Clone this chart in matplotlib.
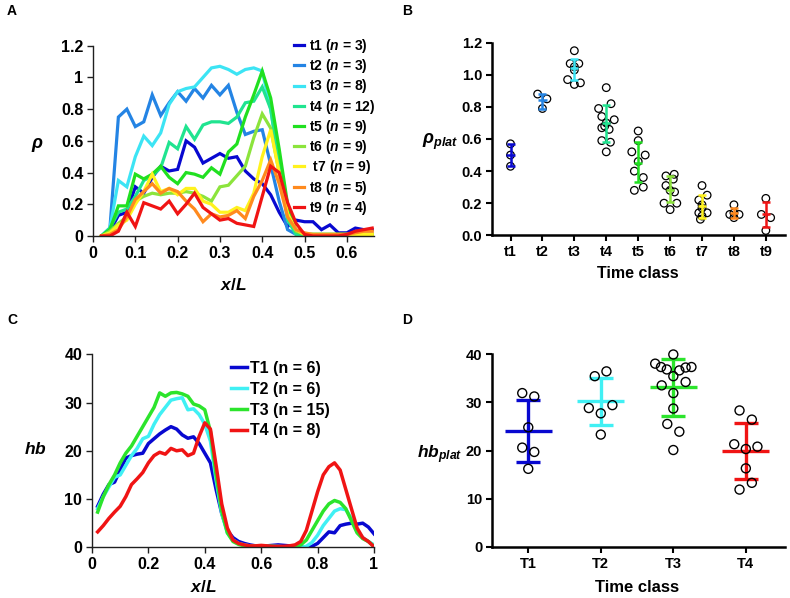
import matplotlib
matplotlib.use('Agg')
import matplotlib.pyplot as plt
from matplotlib.ticker import FuncFormatter, FormatStrFormatter

plt.rcParams['font.family'] = ['Liberation Sans', 'DejaVu Sans']
plt.rcParams['font.weight'] = 'bold'
plt.rcParams['mathtext.fontset'] = 'custom'
plt.rcParams['mathtext.rm'] = 'Liberation Sans:bold'
plt.rcParams['mathtext.it'] = 'Liberation Sans:italic:bold'
plt.rcParams['mathtext.bf'] = 'Liberation Sans:bold'

# ---------------- Panel A data ----------------
a_x = [0.02, 0.04, 0.06, 0.08, 0.10, 0.12, 0.14, 0.16, 0.18, 0.20, 0.22,
       0.24, 0.26, 0.28, 0.30, 0.32, 0.34, 0.36, 0.38, 0.40, 0.42, 0.44,
       0.46, 0.48, 0.50, 0.52, 0.54, 0.56, 0.58, 0.60, 0.62, 0.64, 0.66]
a_t1 = [0, 0.03, 0.13, 0.15, 0.31, 0.27, 0.37, 0.44, 0.41, 0.42, 0.60, 0.56,
        0.46, 0.49, 0.52, 0.49, 0.50, 0.41, 0.36, 0.33, 0.26, 0.15, 0.06, 0.10,
        0.09, 0.09, 0.04, 0.07, 0.02, 0.02, 0.05, 0.04, 0.04]
a_t2 = [0, 0.05, 0.75, 0.80, 0.69, 0.72, 0.89, 0.76, 0.84, 0.91, 0.85, 0.93,
        0.87, 0.95, 0.89, 0.95, 0.78, 0.64, 0.66, 0.67, 0.45, 0.22, 0.04, 0.01,
        0, 0, 0, 0, 0, 0, 0, 0, 0]
a_t3 = [0, 0.05, 0.35, 0.31, 0.50, 0.63, 0.57, 0.65, 0.83, 0.91, 0.93, 0.94,
        1.00, 1.06, 1.07, 1.05, 1.02, 1.05, 1.06, 1.04, 0.80, 0.45, 0.12, 0.01,
        0, 0, 0, 0, 0, 0, 0, 0, 0]
a_t4 = [0, 0.05, 0.15, 0.17, 0.25, 0.35, 0.38, 0.43, 0.59, 0.55, 0.69, 0.61,
        0.70, 0.72, 0.72, 0.71, 0.75, 0.84, 0.85, 0.94, 0.80, 0.45, 0.10, 0.01,
        0.01, 0.01, 0.01, 0.01, 0.01, 0.01, 0.01, 0.01, 0.01]
a_t5 = [0, 0.04, 0.19, 0.19, 0.39, 0.36, 0.39, 0.44, 0.37, 0.33, 0.40, 0.39,
        0.37, 0.43, 0.39, 0.53, 0.58, 0.75, 0.89, 1.04, 0.87, 0.55, 0.20, 0.03,
        0.01, 0.01, 0.01, 0.01, 0.01, 0.01, 0.01, 0.01, 0.01]
a_t6 = [0, 0.03, 0.08, 0.12, 0.22, 0.25, 0.27, 0.26, 0.27, 0.27, 0.28, 0.27,
        0.25, 0.22, 0.31, 0.32, 0.38, 0.44, 0.62, 0.77, 0.68, 0.40, 0.12, 0.03,
        0.01, 0.01, 0.01, 0.01, 0.01, 0.01, 0.01, 0.01, 0.01]
a_t7 = [0, 0.02, 0.07, 0.10, 0.20, 0.28, 0.39, 0.28, 0.30, 0.26, 0.30, 0.30,
        0.22, 0.20, 0.15, 0.15, 0.18, 0.16, 0.27, 0.50, 0.67, 0.40, 0.14, 0.04,
        0.01, 0.01, 0.01, 0.01, 0.01, 0.01, 0.01, 0.01, 0.01]
a_t8 = [0, 0.01, 0.04, 0.12, 0.23, 0.28, 0.33, 0.27, 0.30, 0.28, 0.22, 0.17,
        0.09, 0.14, 0.12, 0.13, 0.16, 0.11, 0.25, 0.35, 0.48, 0.33, 0.12, 0.04,
        0.02, 0.01, 0.01, 0.01, 0.01, 0.01, 0.02, 0.03, 0.03]
a_t9 = [0, 0, 0.03, 0.15, 0.06, 0.21, 0.19, 0.17, 0.22, 0.14, 0.20, 0.27,
        0.18, 0.14, 0.10, 0.11, 0.08, 0.07, 0.06, 0.25, 0.44, 0.40, 0.21, 0.08,
        0.01, 0, 0, 0, 0, 0.01, 0.03, 0.04, 0.05]
a_series = [a_t1, a_t2, a_t3, a_t4, a_t5, a_t6, a_t7, a_t8, a_t9]
a_labels = ['t1 ($n$ = 3)', 't2 ($n$ = 3)', 't3 ($n$ = 8)', 't4 ($n$ = 12)',
            't5 ($n$ = 9)', 't6 ($n$ = 9)', ' t7 ($n$ = 9)', 't8 ($n$ = 5)',
            't9 ($n$ = 4)']
a_colors = ['#0808D0', '#2484E4', '#3CE4F4', '#20E490', '#20E020',
            '#8CE43C', '#FFF21E', '#FF8A1E', '#F01414']

# ---------------- Panel B data ----------------
b_classes = ['t1', 't2', 't3', 't4', 't5', 't6', 't7', 't8', 't9']
b_points = [
    [0.57, 0.50, 0.43],
    [0.88, 0.85, 0.79],
    [1.15, 1.07, 1.07, 1.05, 1.03, 0.97, 0.95, 0.94],
    [0.92, 0.82, 0.79, 0.74, 0.72, 0.70, 0.68, 0.67, 0.66, 0.59, 0.58, 0.52],
    [0.65, 0.59, 0.52, 0.50, 0.46, 0.40, 0.36, 0.30, 0.28],
    [0.38, 0.37, 0.35, 0.31, 0.28, 0.27, 0.20, 0.20, 0.16],
    [0.31, 0.25, 0.22, 0.19, 0.17, 0.14, 0.14, 0.12, 0.10],
    [0.19, 0.14, 0.13, 0.13, 0.11],
    [0.23, 0.13, 0.11, 0.03],
]
b_jitter = [
    [0, 0, 0],
    [-0.15, 0.14, 0],
    [0, -0.13, 0.14, 0, 0, -0.21, 0.19, 0],
    [0, 0.15, -0.24, -0.14, 0.25, 0, -0.05, -0.14, 0.09, -0.14, 0.13, 0],
    [0, 0, -0.2, 0.22, 0, -0.12, 0.16, 0.16, -0.12],
    [0.13, -0.13, 0.10, -0.13, 0, 0.14, -0.19, 0.21, 0],
    [0, 0.16, -0.10, 0, 0, -0.10, 0.16, 0, -0.05],
    [0, 0, -0.13, 0.16, 0],
    [0, -0.14, 0.15, 0],
]
b_mean = [0.50, 0.84, 1.04, 0.70, 0.45, 0.28, 0.18, 0.14, 0.13]
b_low = [0.43, 0.79, 0.97, 0.58, 0.33, 0.21, 0.11, 0.11, 0.05]
b_high = [0.57, 0.88, 1.10, 0.81, 0.58, 0.37, 0.25, 0.17, 0.21]
b_colors = a_colors

# ---------------- Panel C data ----------------
c_x = [0.02, 0.04, 0.06, 0.08, 0.10, 0.12, 0.14, 0.16, 0.18, 0.20, 0.22, 0.24,
       0.26, 0.28, 0.30, 0.32, 0.34, 0.36, 0.38, 0.40, 0.42, 0.44, 0.46, 0.48,
       0.50, 0.52, 0.54, 0.56, 0.58, 0.60, 0.62, 0.64, 0.66, 0.68, 0.70, 0.72,
       0.74, 0.76, 0.78, 0.80, 0.82, 0.84, 0.86, 0.88, 0.90, 0.92, 0.94, 0.96,
       0.98, 1.00]
c_T1 = [8.5, 11.0, 13.0, 13.5, 16.0, 18.5, 19.0, 19.3, 19.5, 21.5, 22.5, 23.5,
        24.3, 25.0, 24.5, 23.3, 22.6, 22.9, 21.5, 19.5, 17.5, 12.0, 7.0, 3.5,
        2.0, 1.2, 0.8, 0.5, 0.3, 0.3, 0.3, 0.4, 0.5, 0.4, 0.3, 0.2,
        0.1, 0.1, 0.2, 0.8, 2.0, 3.2, 3.0, 4.5, 4.8, 5.0, 4.8, 5.0,
        4.2, 2.8]
c_T2 = [8.0, 10.5, 12.5, 14.5, 15.0, 17.0, 19.0, 20.5, 22.5, 23.0, 25.5, 27.5,
        29.0, 30.5, 30.8, 31.0, 28.5, 28.7, 27.5, 25.5, 22.0, 14.0, 7.0, 3.0,
        1.5, 0.8, 0.5, 0.3, 0.2, 0.2, 0.2, 0.2, 0.2, 0.1, 0.1, 0.1,
        0.0, 0.2, 1.0, 2.5, 4.5, 6.0, 7.5, 8.0, 7.8, 6.0, 3.5, 2.0,
        1.2, 0.5]
c_T3 = [7.3, 10.5, 13.0, 15.0, 17.5, 19.5, 21.0, 23.0, 25.0, 27.0, 29.0, 32.0,
        31.3, 32.0, 32.1, 31.8, 31.3, 29.7, 29.3, 28.5, 24.0, 15.0, 7.5, 3.0,
        1.2, 0.6, 0.3, 0.2, 0.2, 0.2, 0.2, 0.2, 0.1, 0.1, 0.1, 0.2,
        0.5, 1.5, 3.5, 5.5, 7.5, 9.0, 9.7, 9.3, 8.0, 5.5, 3.0, 1.8,
        1.2, 0.2]
c_T4 = [3.2, 4.5, 6.0, 7.3, 8.5, 10.5, 13.0, 14.2, 15.5, 17.5, 19.0, 19.7,
        19.3, 20.5, 20.0, 20.2, 19.0, 19.5, 23.0, 25.8, 24.5, 17.0, 9.0, 4.0,
        1.5, 0.8, 0.5, 0.3, 0.3, 0.4, 0.3, 0.2, 0.2, 0.2, 0.3, 0.5,
        1.2, 3.5, 7.5, 11.5, 15.0, 16.7, 17.5, 16.0, 12.0, 8.0, 4.0, 2.0,
        1.2, 0.1]
c_series = [c_T1, c_T2, c_T3, c_T4]
c_labels = ['T1 (n = 6)', 'T2 (n = 6)', 'T3 (n = 15)', 'T4 (n = 8)']
c_colors = ['#0808D0', '#40F0F4', '#2CE42C', '#F01414']

# ---------------- Panel D data ----------------
d_classes = ['T1', 'T2', 'T3', 'T4']
d_points = [
    [31.9, 31.2, 24.8, 20.6, 19.7, 16.2],
    [36.4, 35.4, 29.4, 28.8, 27.7, 23.3],
    [39.9, 38.0, 37.3, 36.8, 36.6, 37.2, 37.3, 35.4, 34.2, 33.5, 31.9, 28.7,
     25.5, 23.9, 20.1],
    [28.3, 26.4, 21.3, 20.8, 20.3, 16.3, 13.3, 11.9],
]
d_jitter = [
    [-0.083, 0.083, 0, -0.083, 0.083, 0],
    [0.078, -0.083, 0.16, -0.165, 0, 0],
    [0, -0.25, -0.17, -0.09, 0.083, 0.17, 0.25, 0, 0.17, -0.16, 0, 0,
     -0.083, 0.083, 0],
    [-0.087, 0.083, -0.16, 0.16, 0, 0, 0.083, -0.087],
]
d_mean = [24.0, 30.2, 33.1, 19.9]
d_low = [17.7, 25.3, 27.2, 14.0]
d_high = [30.5, 35.1, 39.0, 25.7]
d_colors = c_colors

# ---------------- Figure ----------------
W, H = 790, 598
fig = plt.figure(figsize=(W / 100, H / 100), dpi=100)


def box(l, t, r, b):
    return [l / W, 1 - b / H, (r - l) / W, (b - t) / H]


axA = fig.add_axes(box(93, 45.7, 373.5, 236))
axB = fig.add_axes(box(492, 42.7, 785, 235.3))
axC = fig.add_axes(box(92, 354.3, 374, 547.3))
axD = fig.add_axes(box(492, 354, 785, 547))

fmt_g = FuncFormatter(lambda v, p: f'{v:g}')

# Panel A
for ys, lab, col in zip(a_series, a_labels, a_colors):
    axA.plot(a_x, ys, color=col, lw=2.3, label=lab, solid_joinstyle='miter')
axA.set_xlim(0, 0.663)
axA.set_ylim(0, 1.2)
axA.set_xticks([0, 0.1, 0.2, 0.3, 0.4, 0.5, 0.6])
axA.set_yticks([0, 0.2, 0.4, 0.6, 0.8, 1.0, 1.2])
axA.xaxis.set_major_formatter(fmt_g)
axA.yaxis.set_major_formatter(fmt_g)
axA.legend(loc='upper left', bbox_to_anchor=(294 / W, 1 - 37 / H),
           bbox_transform=fig.transFigure, frameon=False, fontsize=10,
           handlelength=0.75, handletextpad=0.3, labelspacing=0.16,
           borderpad=0, borderaxespad=0)

# Panel C
for ys, lab, col in zip(c_series, c_labels, c_colors):
    axC.plot(c_x, ys, color=col, lw=2.5, label=lab)
axC.set_xlim(0, 1)
axC.set_ylim(0, 40)
axC.set_xticks([0, 0.2, 0.4, 0.6, 0.8, 1.0])
axC.set_yticks([0, 10, 20, 30, 40])
axC.xaxis.set_major_formatter(fmt_g)
axC.legend(loc='upper left', bbox_to_anchor=(231 / W, 1 - 361 / H),
           bbox_transform=fig.transFigure, frameon=False, fontsize=11.5,
           handlelength=1.0, handletextpad=0.2, labelspacing=0.36,
           borderpad=0, borderaxespad=0)

for ax in (axA, axC):
    for s in ('top', 'right'):
        ax.spines[s].set_visible(False)
    for s in ('left', 'bottom'):
        ax.spines[s].set_linewidth(1.0)
        ax.spines[s].set_color('#202020')
    ax.tick_params(direction='out', length=4, width=1, labelsize=11.5,
                   pad=3, color='#202020')

# Panel B
for i, (pts, jit) in enumerate(zip(b_points, b_jitter)):
    xc = i + 1
    axB.scatter([xc + j for j in jit], pts, s=30, facecolors='none',
                edgecolors='black', linewidths=0.9, zorder=2, clip_on=False)
    axB.errorbar([xc], [b_mean[i]],
                 yerr=[[b_mean[i] - b_low[i]], [b_high[i] - b_mean[i]]],
                 fmt='none', ecolor=b_colors[i], elinewidth=1.8, capsize=3.0,
                 capthick=1.8, zorder=3)
    axB.hlines(b_mean[i], xc - 0.13, xc + 0.13, colors=b_colors[i], lw=1.8,
               zorder=3)
axB.set_xlim(0.42, 9.6)
axB.set_ylim(0, 1.2)
axB.set_xticks(range(1, len(b_classes) + 1))
axB.set_xticklabels(b_classes)
axB.set_yticks([0, 0.2, 0.4, 0.6, 0.8, 1.0, 1.2])
axB.yaxis.set_major_formatter(FormatStrFormatter('%.1f'))

# Panel D
for i, (pts, jit) in enumerate(zip(d_points, d_jitter)):
    xc = i + 1
    axD.errorbar([xc], [d_mean[i]],
                 yerr=[[d_mean[i] - d_low[i]], [d_high[i] - d_mean[i]]],
                 fmt='none', ecolor=d_colors[i], elinewidth=2.4, capsize=8.6,
                 capthick=2.4, zorder=2)
    axD.hlines(d_mean[i], xc - 0.325, xc + 0.325, colors=d_colors[i], lw=2.4,
               zorder=2)
    axD.scatter([xc + j for j in jit], pts, s=42, facecolors='none',
                edgecolors='black', linewidths=1.0, zorder=3, clip_on=False)
axD.set_xlim(0.5, 4.54)
axD.set_ylim(0, 40)
axD.set_xticks(range(1, len(d_classes) + 1))
axD.set_xticklabels(d_classes)
axD.set_yticks([0, 10, 20, 30, 40])

for ax in (axB, axD):
    for s in ('top', 'right'):
        ax.spines[s].set_visible(False)
    for s in ('left', 'bottom'):
        ax.spines[s].set_linewidth(1.8)
        ax.spines[s].set_color('black')
    ax.tick_params(direction='out', length=4, width=1.5, labelsize=10.5,
                   pad=3)

# axis labels
fig.text(37 / W, 1 - 145 / H, r'$\rho$', fontsize=13, ha='center', va='center')
fig.text(233 / W, 1 - 285 / H, r'$x/L$', fontsize=12.5, ha='center', va='center')
fig.text(440 / W, 1 - 142 / H, r'$\rho_{plat}$', fontsize=13, ha='center', va='center')
fig.text(638 / W, 1 - 273 / H, 'Time class', fontsize=11.5, ha='center', va='center')
fig.text(35 / W, 1 - 449 / H, r'$hb$', fontsize=12.5, ha='center', va='center')
fig.text(203 / W, 1 - 587 / H, r'$x/L$', fontsize=12.5, ha='center', va='center')
fig.text(440 / W, 1 - 455 / H, r'$hb_{plat}$', fontsize=12.5, ha='center', va='center')
fig.text(637 / W, 1 - 587 / H, 'Time class', fontsize=12, ha='center', va='center')

# panel letters
for lab, (px, py) in zip(['A', 'B', 'C', 'D'],
                         [(12, 11), (407, 11), (12, 320), (407, 320)]):
    fig.text(px / W, 1 - py / H, lab, fontsize=10, ha='center', va='center')

fig.savefig('out.png', dpi=100)
